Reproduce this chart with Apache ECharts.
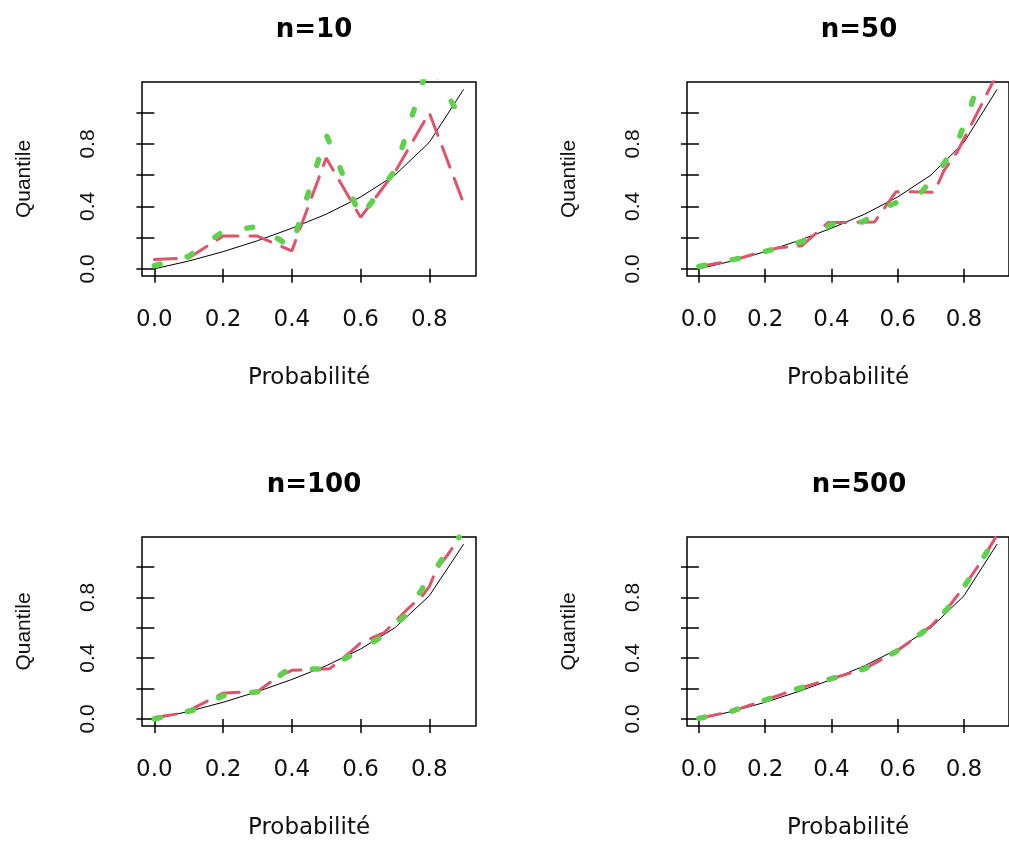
<!DOCTYPE html>
<html>
<head>
<meta charset="utf-8">
<title>Quantiles</title>
<script src="https://cdn.jsdelivr.net/npm/echarts@6/dist/echarts.min.js"></script>
<style>
  html, body { margin: 0; padding: 0; background: #fff; }
  #chart { width: 1009px; height: 841px; }
</style>
</head>
<body>
<div id="chart"></div>
<script>
// theoretical quantile curve (black)
const probTheo = [0, 0.1, 0.2, 0.3, 0.4, 0.5, 0.6, 0.7, 0.8, 0.9]
const quantTheo = [0, 0.05, 0.11, 0.18, 0.26, 0.35, 0.46, 0.60, 0.81, 1.15]

// n=10
const prob10 = [0, 0.1, 0.2, 0.3, 0.4, 0.5, 0.6, 0.7, 0.8, 0.9]
const red10 = [0.06, 0.07, 0.21, 0.21, 0.115, 0.71, 0.33, 0.62, 1.0, 0.42]
const green10 = [0.02, 0.08, 0.24, 0.27, 0.14, 0.86, 0.33, 0.63, 1.33, 0.93]

// n=50
const prob50Red = [0, 0.09, 0.16, 0.24, 0.31, 0.39, 0.53, 0.595, 0.645, 0.71, 0.74, 0.78, 0.85, 0.90]
const red50 = [0.015, 0.047, 0.09, 0.135, 0.147, 0.296, 0.30, 0.494, 0.494, 0.49, 0.63, 0.75, 1.04, 1.25]
const prob50Green = [0, 0.11, 0.217, 0.314, 0.40, 0.494, 0.58, 0.673, 0.73, 0.78, 0.814, 0.839, 0.86]
const green50 = [0.015, 0.062, 0.121, 0.175, 0.285, 0.30, 0.41, 0.494, 0.643, 0.81, 0.995, 1.165, 1.25]

// n=100
const prob100Red = [0, 0.086, 0.20, 0.23, 0.30, 0.36, 0.40, 0.51, 0.57, 0.60, 0.63, 0.67, 0.72, 0.74, 0.78, 0.80, 0.82, 0.86, 0.89]
const red100 = [0.01, 0.04, 0.17, 0.175, 0.18, 0.28, 0.32, 0.33, 0.44, 0.50, 0.53, 0.57, 0.685, 0.73, 0.81, 0.87, 0.98, 1.10, 1.20]
const prob100Green = [0, 0.11, 0.202, 0.304, 0.387, 0.489, 0.571, 0.664, 0.732, 0.785, 0.834, 0.887]
const green100 = [0, 0.056, 0.155, 0.18, 0.324, 0.33, 0.416, 0.545, 0.685, 0.878, 1.04, 1.196]

// n=500
const prob500 = [0, 0.1, 0.2, 0.3, 0.4, 0.5, 0.6, 0.7, 0.75, 0.8, 0.85, 0.9]
const red500 = [0.004, 0.052, 0.125, 0.2, 0.265, 0.33, 0.45, 0.61, 0.725, 0.87, 1.03, 1.21]
const green500 = [0.004, 0.052, 0.125, 0.2, 0.265, 0.33, 0.45, 0.61, 0.725, 0.87, 1.03, 1.21]

const titles = ['n=10', 'n=50', 'n=100', 'n=500']
const xTicks = [0, 0.2, 0.4, 0.6, 0.8]
const yTicks = [0, 0.2, 0.4, 0.6, 0.8, 1.0]
const yLabels = [0, 0.4, 0.8]

const panels = [
  { px: prob10, red: red10, gx: prob10, green: green10 },
  { px: prob50Red, red: red50, gx: prob50Green, green: green50 },
  { px: prob100Red, red: red100, gx: prob100Green, green: green100 },
  { px: prob500, red: red500, gx: prob500, green: green500 }
]

const pos = [
  { left: 142, top: 82, height: 194 },
  { left: 687, top: 82, height: 194 },
  { left: 142, top: 537, height: 192 },
  { left: 687, top: 537, height: 192 }
]

const zip = (xs, ys) => xs.map((x, i) => [x, ys[i]])

const hFont = 'DejaVu Sans'
const vFont = 'Liberation Sans'

const grid = pos.map(p => ({
  left: p.left, top: p.top, width: 334, height: p.height,
  show: true, borderColor: '#000', borderWidth: 1.5, backgroundColor: 'transparent'
}))

const xAxis = pos.map((p, i) => ({
  type: 'value', gridIndex: i, min: -0.036, max: 0.936,
  name: 'Probabilité', nameLocation: 'middle', nameGap: 91,
  nameTextStyle: { fontFamily: hFont, fontSize: 23, color: '#111' },
  splitLine: { show: false },
  axisLine: { show: false },
  axisTick: { show: true, length: 14, customValues: xTicks, lineStyle: { color: '#000', width: 1.5 } },
  axisLabel: {
    customValues: xTicks, margin: 33,
    fontFamily: hFont, fontSize: 23, color: '#111',
    formatter: v => v.toFixed(1)
  }
}))

const yAxis = pos.map((p, i) => ({
  type: 'value', gridIndex: i, min: -0.046, max: 1.197,
  name: 'Quantile', nameLocation: 'middle', nameGap: 107, nameRotate: 90,
  nameTextStyle: { fontFamily: vFont, fontSize: 21, color: '#111' },
  splitLine: { show: false },
  axisLine: { show: false },
  axisTick: { show: true, length: 18, customValues: yTicks, lineStyle: { color: '#000', width: 1.5 } },
  axisLabel: {
    customValues: yLabels, margin: 43, rotate: 90,
    fontFamily: vFont, fontSize: 21, color: '#111',
    formatter: v => v.toFixed(1)
  }
}))

const series = []
panels.forEach((d, i) => {
  series.push({
    type: 'line', xAxisIndex: i, yAxisIndex: i, symbol: 'none',
    data: zip(probTheo, quantTheo),
    lineStyle: { color: '#000', width: 1 }
  })
  series.push({
    type: 'line', xAxisIndex: i, yAxisIndex: i, symbol: 'none',
    data: zip(d.px, d.red),
    lineStyle: { color: '#DF536B', width: 3, type: [22, 12], cap: 'round' }
  })
  series.push({
    type: 'line', xAxisIndex: i, yAxisIndex: i, symbol: 'none',
    data: zip(d.gx, d.green),
    lineStyle: { color: '#61D04F', width: 5.5, type: [6, 28], cap: 'round' }
  })
})

const title = titles.map((t, i) => ({
  text: t,
  left: pos[i].left + 167, top: pos[i].top - 70, textAlign: 'center',
  textStyle: { fontFamily: hFont, fontWeight: 'bold', fontSize: 26, color: '#000' }
}))

const chart = echarts.init(document.getElementById('chart'))
chart.setOption({
  animation: false,
  title,
  grid,
  xAxis,
  yAxis,
  series
})
</script>
</body>
</html>
